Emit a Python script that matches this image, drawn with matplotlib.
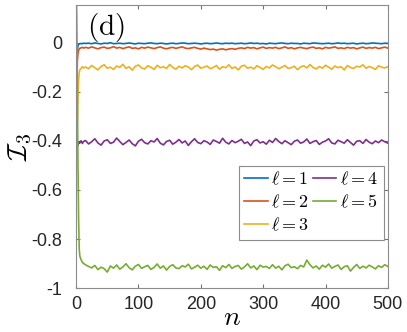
import matplotlib
matplotlib.use("Agg")
import matplotlib.pyplot as plt

plt.rcParams["font.family"] = ["Liberation Sans", "DejaVu Sans"]
plt.rcParams["mathtext.fontset"] = "cm"
plt.rcParams["axes.unicode_minus"] = False

# time steps: dense at the start, every 5 afterwards
n_early = [0, 1, 2, 3, 4, 5, 6, 8, 10, 12]
n_late = list(range(15, 501, 5))

l1_early = [0.0, -0.2, -0.03, -0.01, -0.006, -0.004, -0.003, -0.002, -0.003, -0.001]
l1_late = [
    -0.002, -0.001, -0.003, 0.000, -0.002, -0.004, -0.001, -0.002, 0.001, -0.003,
    -0.002, -0.001, -0.003, -0.002, 0.000, -0.002, -0.004, -0.001, -0.002, -0.003,
    -0.001, 0.000, -0.002, -0.003, -0.001, -0.002, -0.004, -0.002, -0.001, -0.003,
    -0.002, 0.000, -0.001, -0.003, -0.002, -0.001, -0.002, -0.004, -0.002, -0.001,
    -0.003, -0.002, 0.000, -0.002, -0.003, -0.001, -0.002, -0.001, -0.003, -0.002,
    -0.001, -0.003, -0.002, 0.000, -0.002, -0.001, -0.003, -0.002, -0.004, -0.001,
    -0.002, -0.003, -0.001, 0.000, -0.002, -0.003, -0.001, -0.002, -0.002, -0.004,
    -0.001, -0.002, -0.003, 0.000, -0.001, -0.002, -0.003, -0.002, -0.001, -0.003,
    -0.002, 0.000, -0.002, -0.001, -0.003, -0.002, -0.001, -0.004, -0.002, -0.001,
    -0.003, -0.002, 0.000, -0.001, -0.002, -0.003, -0.001, -0.002]

l2_early = [0.0, -0.25, -0.07, -0.04, -0.03, -0.025, -0.022, -0.02, -0.018, -0.021]
l2_late = [
    -0.018, -0.021, -0.016, -0.020, -0.024, -0.019, -0.017, -0.022, -0.020, -0.015,
    -0.021, -0.018, -0.023, -0.019, -0.016, -0.022, -0.020, -0.024, -0.018, -0.021,
    -0.017, -0.020, -0.023, -0.019, -0.016, -0.021, -0.024, -0.020, -0.018, -0.022,
    -0.019, -0.016, -0.021, -0.023, -0.020, -0.018, -0.022, -0.025, -0.021, -0.024,
    -0.027, -0.025, -0.029, -0.026, -0.024, -0.028, -0.025, -0.023, -0.026, -0.022,
    -0.020, -0.023, -0.018, -0.021, -0.019, -0.024, -0.020, -0.017, -0.022, -0.019,
    -0.021, -0.018, -0.023, -0.020, -0.016, -0.022, -0.019, -0.024, -0.020, -0.018,
    -0.021, -0.023, -0.019, -0.017, -0.022, -0.020, -0.024, -0.018, -0.021, -0.019,
    -0.016, -0.022, -0.020, -0.023, -0.018, -0.021, -0.019, -0.024, -0.020, -0.017,
    -0.022, -0.019, -0.021, -0.018, -0.023, -0.020, -0.017, -0.021]

l3_early = [0.0, -0.35, -0.32, -0.22, -0.15, -0.12, -0.11, -0.104, -0.097, -0.102]
l3_late = [
    -0.098, -0.105, -0.092, -0.101, -0.110, -0.096, -0.089, -0.103, -0.099, -0.108,
    -0.094, -0.100, -0.087, -0.104, -0.097, -0.111, -0.095, -0.090, -0.102, -0.106,
    -0.093, -0.099, -0.108, -0.091, -0.101, -0.097, -0.104, -0.088, -0.100, -0.107,
    -0.095, -0.102, -0.093, -0.098, -0.109, -0.096, -0.090, -0.103, -0.099, -0.094,
    -0.105, -0.100, -0.092, -0.107, -0.097, -0.101, -0.089, -0.104, -0.098, -0.110,
    -0.095, -0.091, -0.103, -0.099, -0.106, -0.093, -0.100, -0.108, -0.096, -0.102,
    -0.090, -0.097, -0.105, -0.099, -0.092, -0.104, -0.101, -0.095, -0.109, -0.098,
    -0.093, -0.102, -0.088, -0.100, -0.106, -0.096, -0.103, -0.091, -0.099, -0.107,
    -0.094, -0.101, -0.097, -0.110, -0.092, -0.100, -0.104, -0.095, -0.098, -0.089,
    -0.103, -0.096, -0.101, -0.108, -0.093, -0.099, -0.102, -0.097]

l4_early = [0.0, -0.38, -0.42, -0.415, -0.41, -0.403, -0.408, -0.399, -0.41, -0.402]
l4_late = [
    -0.398, -0.412, -0.403, -0.391, -0.408, -0.417, -0.400, -0.395, -0.410, -0.405,
    -0.388, -0.402, -0.415, -0.406, -0.396, -0.411, -0.420, -0.401, -0.393, -0.407,
    -0.412, -0.399, -0.404, -0.390, -0.409, -0.416, -0.402, -0.397, -0.413, -0.405,
    -0.394, -0.408, -0.400, -0.418, -0.403, -0.391, -0.406, -0.411, -0.399, -0.404,
    -0.414, -0.396, -0.402, -0.409, -0.389, -0.405, -0.412, -0.398, -0.407, -0.401,
    -0.393, -0.410, -0.404, -0.419, -0.400, -0.395, -0.408, -0.403, -0.413, -0.397,
    -0.406, -0.390, -0.402, -0.411, -0.399, -0.407, -0.415, -0.401, -0.396, -0.409,
    -0.404, -0.392, -0.410, -0.403, -0.398, -0.414, -0.405, -0.400, -0.391, -0.408,
    -0.412, -0.397, -0.403, -0.409, -0.395, -0.406, -0.417, -0.401, -0.399, -0.410,
    -0.394, -0.405, -0.411, -0.400, -0.407, -0.396, -0.403, -0.409]

l5_early = [0.2, 0.12, -0.2, -0.5, -0.72, -0.84, -0.87, -0.885, -0.895, -0.9]
l5_late = [
    -0.905, -0.912, -0.918, -0.908, -0.925, -0.915, -0.921, -0.935, -0.910, -0.919,
    -0.906, -0.923, -0.914, -0.901, -0.917, -0.926, -0.911, -0.904, -0.920, -0.913,
    -0.908, -0.924, -0.916, -0.902, -0.919, -0.910, -0.927, -0.912, -0.905, -0.918,
    -0.921, -0.909, -0.914, -0.903, -0.922, -0.915, -0.907, -0.919, -0.911, -0.924,
    -0.906, -0.916, -0.913, -0.928, -0.909, -0.917, -0.904, -0.920, -0.912, -0.908,
    -0.923, -0.914, -0.901, -0.918, -0.910, -0.925, -0.907, -0.915, -0.912, -0.920,
    -0.905, -0.919, -0.911, -0.926, -0.909, -0.903, -0.917, -0.913, -0.921, -0.908,
    -0.914, -0.886, -0.905, -0.918, -0.910, -0.923, -0.907, -0.915, -0.902, -0.919,
    -0.912, -0.906, -0.924, -0.913, -0.909, -0.931, -0.916, -0.904, -0.920, -0.911,
    -0.918, -0.907, -0.914, -0.922, -0.909, -0.916, -0.905, -0.912]

labels = [r"$\ell=1$", r"$\ell=2$", r"$\ell=3$", r"$\ell=4$", r"$\ell=5$"]
colors = ["#0072BD", "#D95319", "#EDB120", "#7E2F8E", "#77AC30"]


def main():
    n = n_early + n_late
    series = [l1_early + l1_late, l2_early + l2_late, l3_early + l3_late,
              l4_early + l4_late, l5_early + l5_late]

    fig = plt.figure(figsize=(4.07, 3.32), dpi=100)
    ax = fig.add_axes([0.187, 0.1325, 0.766, 0.8525])

    for y, c, lab in zip(series, colors, labels):
        ax.plot(n, y, color=c, lw=1.2, label=lab)

    ax.set_xlim(0, 500)
    ax.set_ylim(-1, 0.155)
    ax.set_xticks([0, 100, 200, 300, 400, 500])
    ax.set_yticks([-1, -0.8, -0.6, -0.4, -0.2, 0])
    ax.set_yticklabels(["-1", "-0.8", "-0.6", "-0.4", "-0.2", "0"])
    ax.tick_params(direction="in", top=True, right=True, length=3,
                   color="0.45", labelsize=13, labelcolor="0.15")
    ax.tick_params(axis="y", pad=10)
    ax.tick_params(axis="x", pad=6)
    for s in ax.spines.values():
        s.set_color("0.55")
        s.set_linewidth(0.8)

    ax.set_xlabel(r"$n$", fontsize=20, labelpad=-6)
    ax.set_ylabel(r"$\mathcal{I}_3$", fontsize=20, labelpad=-2)
    ax.text(0.035, 0.98, r"$\mathrm{(d)}$", transform=ax.transAxes,
            fontsize=21, va="top", ha="left")

    leg = ax.legend(ncol=2, loc="upper right", bbox_to_anchor=(0.987, 0.432),
                    fontsize=13, handlelength=1.3, handletextpad=0.2,
                    columnspacing=0.2, labelspacing=0.3, borderpad=0.3,
                    borderaxespad=0, fancybox=False, framealpha=1)
    leg.get_frame().set_edgecolor("0.55")
    leg.get_frame().set_linewidth(0.8)

    fig.savefig("out.png", dpi=100)


if __name__ == "__main__":
    main()
